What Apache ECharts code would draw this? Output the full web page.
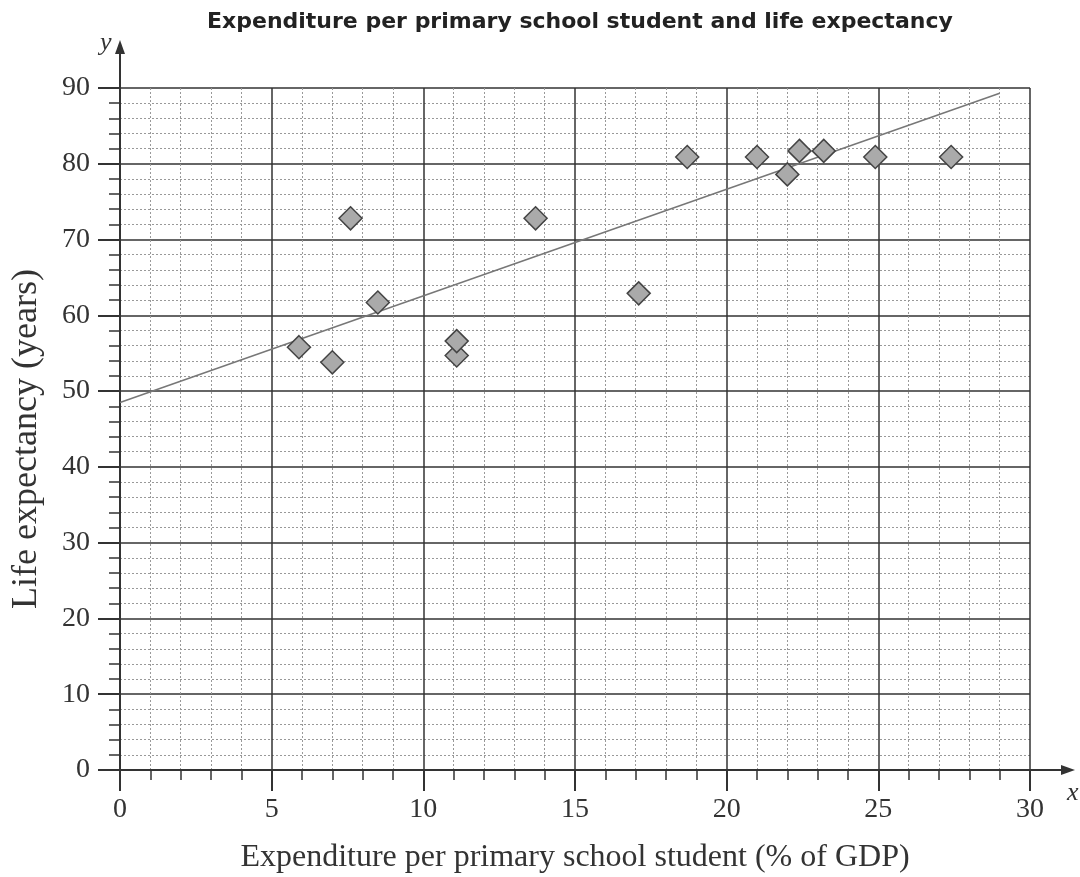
<!DOCTYPE html>
<html>
<head>
<meta charset="utf-8">
<script src="https://cdn.jsdelivr.net/npm/echarts@6/dist/echarts.min.js"></script>
<style>
html,body{margin:0;padding:0;background:#fff;}
#main{width:1080px;height:877px;}
</style>
</head>
<body>
<div id="main"></div>
<script>
const titleText = 'Expenditure per primary school student and life expectancy';
const xName = 'Expenditure per primary school student (% of GDP)';
const yName = 'Life expectancy (years)';
const expenditure = [5.9, 7.0, 7.6, 8.5, 11.1, 11.1, 13.7, 17.1, 18.7, 21.0, 22.0, 22.4, 23.2, 24.9, 27.4];
const lifeExp = [55.8, 53.8, 72.8, 61.7, 54.7, 56.6, 72.8, 62.9, 80.9, 80.9, 78.6, 81.7, 81.7, 80.9, 80.9];
const trendX = [0, 29];
const trendY = [48.5, 89.3];

const points = expenditure.map((x, i) => [x, lifeExp[i]]);
const trend = trendX.map((x, i) => [x, trendY[i]]);

const chart = echarts.init(document.getElementById('main'));
const serif = 'Liberation Serif';
const dark = '#333';
chart.setOption({
  animation: false,
  backgroundColor: '#fff',
  title: {
    text: titleText, left: 202, top: 6,
    textStyle: {fontFamily: 'DejaVu Sans', fontWeight: 'bold', fontSize: 22, color: '#222'}
  },
  grid: {left: 120, right: 50, top: 88, bottom: 107, containLabel: false, outerBoundsMode: 'none'},
  xAxis: {
    type: 'value', min: 0, max: 30, interval: 5,
    name: xName, nameLocation: 'middle', nameGap: 72,
    nameTextStyle: {fontFamily: serif, fontSize: 32, color: dark},
    axisLine: {show: true, onZero: false, lineStyle: {color: dark, width: 2}},
    axisTick: {show: true, length: 21, lineStyle: {color: dark, width: 2}},
    minorTick: {show: true, splitNumber: 5, length: 10, lineStyle: {color: dark, width: 1.5}},
    axisLabel: {fontFamily: serif, fontSize: 28, color: dark, margin: 26},
    splitLine: {show: true, lineStyle: {color: dark, width: 1.5}},
    minorSplitLine: {show: true, lineStyle: {color: '#999', width: 1, type: [2, 2]}}
  },
  yAxis: {
    type: 'value', min: 0, max: 90, interval: 10,
    name: yName, nameLocation: 'middle', nameGap: 75,
    nameTextStyle: {fontFamily: serif, fontSize: 36, color: dark, padding: [0, 20, 0, 0]},
    axisLine: {show: true, onZero: false, lineStyle: {color: dark, width: 2}},
    axisTick: {show: true, length: 22, lineStyle: {color: dark, width: 2}},
    minorTick: {show: true, splitNumber: 5, length: 11, lineStyle: {color: dark, width: 1.5}},
    axisLabel: {fontFamily: serif, fontSize: 28, color: dark, margin: 30},
    splitLine: {show: true, lineStyle: {color: dark, width: 1.5}},
    minorSplitLine: {show: true, lineStyle: {color: '#999', width: 1, type: [2, 2]}}
  },
  series: [
    {
      type: 'line', data: trend, symbol: 'none', z: 3,
      lineStyle: {color: '#777', width: 1.5}
    },
    {
      type: 'scatter', data: points, symbol: 'diamond', symbolSize: 23, z: 4,
      itemStyle: {color: '#aaa', borderColor: '#444', borderWidth: 1.5, opacity: 1}
    }
  ]
});

// axis extensions with arrows (decoration)
const o = chart.convertToPixel({gridIndex: 0}, [0, 0]);
const xEnd = chart.convertToPixel({gridIndex: 0}, [30, 90]);
const xArrowX = xEnd[0] + 45;
const yArrowY = xEnd[1] - 48;
chart.setOption({
  graphic: [
    {type: 'line', shape: {x1: xEnd[0], y1: o[1], x2: xArrowX - 6, y2: o[1]}, style: {stroke: dark, lineWidth: 2}, z: 10},
    {type: 'polygon', shape: {points: [[xArrowX, o[1]], [xArrowX - 14, o[1] - 5], [xArrowX - 14, o[1] + 5]]}, style: {fill: dark}, z: 10},
    {type: 'line', shape: {x1: o[0], y1: xEnd[1], x2: o[0], y2: yArrowY + 6}, style: {stroke: dark, lineWidth: 2}, z: 10},
    {type: 'polygon', shape: {points: [[o[0], yArrowY], [o[0] - 5, yArrowY + 14], [o[0] + 5, yArrowY + 14]]}, style: {fill: dark}, z: 10},
    {type: 'text', x: xArrowX - 8, y: o[1] + 10, style: {text: 'x', font: 'italic 26px "Liberation Serif"', fill: dark}, z: 10},
    {type: 'text', x: o[0] - 20, y: yArrowY - 10, style: {text: 'y', font: 'italic 26px "Liberation Serif"', fill: dark}, z: 10}
  ]
});
</script>
</body>
</html>
